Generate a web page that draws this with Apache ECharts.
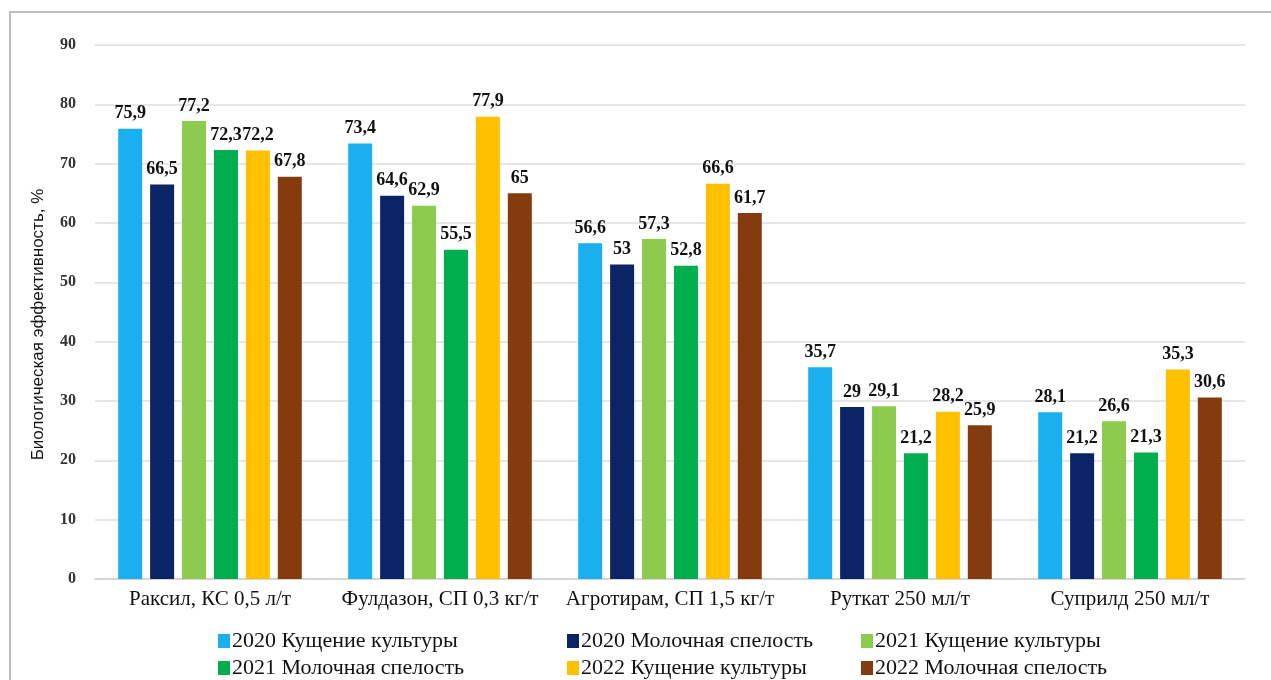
<!DOCTYPE html>
<html><head><meta charset="utf-8">
<script src="https://cdn.jsdelivr.net/npm/echarts@6/dist/echarts.min.js"></script>
<style>
html,body{margin:0;padding:0;background:#fff;}
#frame{position:absolute;left:9px;top:11px;width:1262px;height:680px;border-left:2px solid #bdbdbd;border-top:2px solid #bdbdbd;}
#c{position:absolute;left:0;top:0;width:1271px;height:680px;}
</style></head><body>
<div id="frame"></div>
<div id="c"></div>
<script>
const categories = ['Раксил, КС 0,5 л/т','Фулдазон, СП 0,3 кг/т','Агротирам, СП 1,5 кг/т','Руткат 250 мл/т','Суприлд 250 мл/т'];
const seriesNames = ['2020 Кущение культуры','2020 Молочная спелость','2021 Кущение культуры','2021 Молочная спелость','2022 Кущение культуры','2022 Молочная спелость'];
const s2020k = [75.9, 73.4, 56.6, 35.7, 28.1];
const s2020m = [66.5, 64.6, 53, 29, 21.2];
const s2021k = [77.2, 62.9, 57.3, 29.1, 26.6];
const s2021m = [72.3, 55.5, 52.8, 21.2, 21.3];
const s2022k = [72.2, 77.9, 66.6, 28.2, 35.3];
const s2022m = [67.8, 65, 61.7, 25.9, 30.6];
const yTicks = [0,10,20,30,40,50,60,70,80,90];
const colors = ['#1AAFEF','#0B2466','#8CCB4E','#00AE4E','#FFC000','#843C0E'];
const allData = [s2020k,s2020m,s2021k,s2021m,s2022k,s2022m];
const serif = '"Liberation Serif","Times New Roman",serif';

const chart = echarts.init(document.getElementById('c'));
const legendPos = [[213,625],[562,625],[856,625],[213,652],[562,652],[856,652]];
const option = {
  animation:false,
  color: colors,
  grid:{left:95,right:26,top:45,bottom:101},
  legend: seriesNames.map((n,i)=>({
    data:[n], left:legendPos[i][0], top:legendPos[i][1],
    itemWidth:12,itemHeight:14,icon:'rect',itemGap:4,
    textStyle:{fontFamily:serif,fontSize:22,color:'#111',padding:[0,0,0,-3]}
  })),
  xAxis:{type:'category',data:categories,
    axisLine:{lineStyle:{color:'#cfcfcf',width:1.5}},axisTick:{show:false},
    axisLabel:{interval:0,fontFamily:serif,fontSize:21,color:'#111',margin:10}},
  yAxis:{type:'value',min:0,max:90,interval:10,
    name:'Биологическая эффективность, %',nameLocation:'middle',nameGap:48,
    nameTextStyle:{fontFamily:'"Liberation Sans Narrow","Liberation Sans",sans-serif',fontSize:17,color:'#111',padding:[0,0,0,-25]},
    axisLabel:{fontFamily:serif,fontSize:16,fontWeight:'bold',color:'#333',margin:19,
      formatter:v=>yTicks.includes(v)?String(v):''},
    splitLine:{lineStyle:{color:'#dedede',width:1.5}}},
  series: seriesNames.map((n,i)=>({
    name:n,type:'bar',data:allData[i],barWidth:24,barGap:'33%',barCategoryGap:'20%',
    label:{show:true,position:'top',distance:6,fontFamily:serif,fontSize:18,fontWeight:'bold',color:'#111',
      formatter:p=>String(p.value).replace('.',',')}
  }))
};
chart.setOption(option);
</script>
</body></html>
